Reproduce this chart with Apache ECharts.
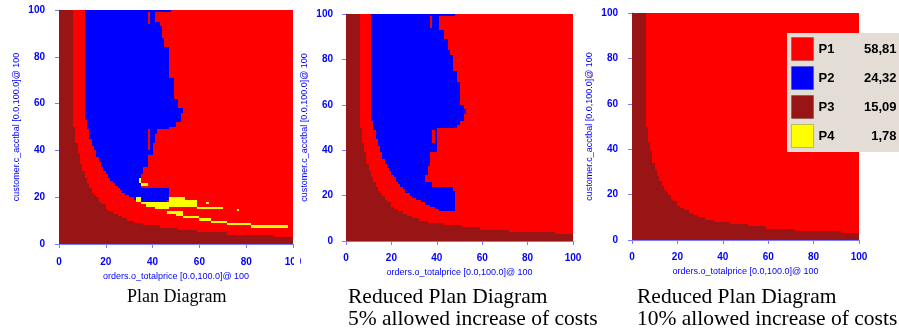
<!DOCTYPE html>
<html>
<head>
<meta charset="utf-8">
<script src="https://cdn.jsdelivr.net/npm/echarts@6/dist/echarts.min.js"></script>
<style>
  html, body { margin: 0; padding: 0; background: #fff; }
  #chart { width: 899px; height: 333px; }
</style>
</head>
<body>
<div id="chart"></div>
<script>
// plans, their colours and the share of each plan in the plan diagram
const plans = ['P1', 'P2', 'P3', 'P4'];
const planColors = ['#ff0000', '#0000ff', '#991414', '#ffff00'];
const planShares = ['58,81', '24,32', '15,09', '1,78'];

const axisTicks = [0, 20, 40, 60, 80, 100];
const xTitle = 'orders.o_totalprice [0.0,100.0]@ 100';
const yTitle = 'customer.c_acctbal [0.0,100.0]@ 100';
const captions = [
    'Plan Diagram',
    'Reduced Plan Diagram\n5% allowed increase of costs',
    'Reduced Plan Diagram\n10% allowed increase of costs'
];

// P3 reaches up to this y, per column x = 0..99 (same in all three diagrams)
const p3Top = [
    100, 100, 100, 100, 100, 100, 50, 43, 39, 34,
    31, 28, 26, 24, 22, 21, 20, 18, 17, 17,
    15, 14, 14, 13, 13, 12, 12, 11, 11, 10,
    10, 10, 9, 9, 9, 9, 8, 8, 8, 8,
    8, 8, 8, 7, 7, 7, 7, 7, 7, 7,
    7, 6, 6, 6, 6, 6, 6, 6, 6, 5,
    5, 5, 5, 5, 5, 5, 5, 5, 5, 5,
    5, 5, 4, 4, 4, 4, 4, 4, 4, 4,
    4, 4, 4, 4, 4, 4, 4, 4, 4, 4,
    4, 4, 3, 3, 3, 3, 3, 3, 3, 3
];

// P2 region, per row y = 0..99: from column left (incl.) to right (excl.)
const p2Left1 = [
    0, 0, 0, 0, 0, 0, 0, 0, 0, 0,
    0, 0, 0, 0, 0, 0, 0, 0, 34, 32,
    30, 28, 27, 26, 25, 24, 23, 22, 21, 21,
    20, 19, 19, 18, 18, 17, 17, 16, 16, 16,
    15, 15, 14, 14, 14, 13, 13, 13, 13, 12,
    12, 12, 12, 11, 11, 11, 11, 11, 11, 11,
    11, 11, 11, 11, 11, 11, 11, 11, 11, 11,
    11, 11, 11, 11, 11, 11, 11, 11, 11, 11,
    11, 11, 11, 11, 11, 11, 11, 11, 11, 11,
    11, 11, 11, 11, 11, 11, 11, 11, 11, 11
];
const p2Right1 = [
    0, 0, 0, 0, 0, 0, 0, 0, 0, 0,
    0, 0, 0, 0, 0, 0, 0, 0, 46, 47,
    47, 47, 47, 47, 35, 35, 35, 35, 35, 35,
    36, 36, 36, 38, 38, 38, 38, 38, 41, 41,
    41, 41, 41, 41, 41, 41, 41, 42, 42, 47,
    50, 50, 52, 52, 52, 52, 53, 53, 51, 51,
    51, 51, 49, 49, 49, 49, 49, 49, 49, 49,
    49, 47, 47, 47, 47, 47, 47, 47, 47, 47,
    47, 47, 47, 47, 45, 45, 45, 45, 44, 44,
    44, 44, 44, 43, 43, 41, 41, 41, 41, 48
];
const p2Left2 = [
    0, 0, 0, 0, 0, 0, 0, 0, 0, 0,
    0, 0, 0, 41, 39, 37, 35, 33, 31, 29,
    28, 26, 26, 25, 24, 23, 22, 22, 21, 20,
    20, 19, 18, 18, 17, 17, 16, 16, 16, 15,
    15, 15, 14, 14, 14, 13, 13, 13, 13, 12,
    12, 12, 12, 11, 11, 11, 11, 11, 11, 11,
    11, 11, 11, 11, 11, 11, 11, 11, 11, 11,
    11, 11, 11, 11, 11, 11, 11, 11, 11, 11,
    11, 11, 11, 11, 11, 11, 11, 11, 11, 11,
    11, 11, 11, 11, 11, 11, 11, 11, 11, 11
];
const p2Right2 = [
    0, 0, 0, 0, 0, 0, 0, 0, 0, 0,
    0, 0, 0, 48, 48, 48, 48, 48, 48, 48,
    48, 48, 47, 47, 38, 38, 35, 35, 35, 36,
    36, 36, 36, 37, 37, 37, 37, 37, 37, 40,
    40, 40, 40, 40, 40, 40, 40, 40, 40, 40,
    49, 50, 50, 52, 52, 52, 53, 53, 52, 52,
    50, 50, 50, 50, 50, 50, 50, 50, 50, 50,
    49, 49, 49, 49, 49, 47, 47, 47, 47, 47,
    47, 47, 46, 46, 45, 45, 45, 45, 45, 43,
    43, 43, 43, 41, 41, 41, 41, 41, 41, 48
];

// P1 slits inside the P2 region: [column, y from, y to]
const p1Slits1 = [[38, 94, 99], [38, 40, 49], [40, 37, 43]];
const p1Slits2 = [[37, 94, 99], [38, 43, 49]];

// P4 patches of the plan diagram: [x from, x to, y from, y to]
const p4Patches1 = [
    [33, 35, 18, 20], [35, 37, 17, 18], [37, 41, 16, 18], [41, 47, 15, 18],
    [47, 54, 16, 20], [54, 59, 16, 19], [59, 70, 15, 16],
    [63, 64, 17, 18], [76, 77, 14, 15], [34, 35, 26, 28], [35, 38, 25, 26],
    [46, 53, 13, 14], [53, 60, 11, 12], [50, 53, 12, 13], [60, 65, 10, 11],
    [65, 72, 9, 10], [72, 82, 8, 9], [82, 98, 7, 8]
];

function planGrid(left, right, slits, patches) {
    const g = [];
    for (let x = 0; x < 100; x++) {
        g.push([]);
        for (let y = 0; y < 100; y++) {
            let p = 0;
            if (y < p3Top[x]) p = 2;
            if (left && x >= left[y] && x < right[y]) p = 1;
            g[x].push(p);
        }
    }
    (slits || []).forEach(s => { for (let y = s[1]; y < s[2]; y++) g[s[0]][y] = 0; });
    (patches || []).forEach(r => {
        for (let x = r[0]; x < r[1]; x++) for (let y = r[2]; y < r[3]; y++) g[x][y] = 3;
    });
    return g;
}

// vertical runs of one plan: [x, y from, y to]
function runs(g, plan) {
    const out = [];
    for (let x = 0; x < 100; x++) {
        let start = -1;
        for (let y = 0; y <= 100; y++) {
            const on = y < 100 && g[x][y] === plan;
            if (on && start < 0) start = y;
            if (!on && start >= 0) { out.push([x, start, y]); start = -1; }
        }
    }
    return out;
}

const diagrams = [
    planGrid(p2Left1, p2Right1, p1Slits1, p4Patches1),
    planGrid(p2Left2, p2Right2, p1Slits2, null),
    planGrid(null, null, null, null)
];

const grids = [
    { left: 59, top: 10, width: 234, height: 234, off: [8, 8] },
    { left: 346, top: 14, width: 227, height: 227, off: [7, 7] },
    { left: 632, top: 13, width: 227, height: 227, off: [8, 7] }
];

const axisBlue = '#0000ff';
const lineBlue = '#7a7aff';

function renderCell(params, api) {
    const a = api.coord([api.value(0), api.value(2)]);
    const b = api.coord([api.value(0) + 1, api.value(1)]);
    const x = Math.round(a[0]), y = Math.round(a[1]);
    return {
        type: 'rect',
        shape: { x: x, y: y, width: Math.round(b[0]) - x, height: Math.round(b[1]) - y },
        style: { fill: api.visual('color') }
    };
}

const series = [];
diagrams.forEach((g, i) => {
    plans.forEach((name, k) => {
        series.push({
            type: 'custom',
            name: name,
            xAxisIndex: i,
            yAxisIndex: i,
            itemStyle: { color: planColors[k] },
            encode: { x: 0, y: [1, 2] },
            renderItem: renderCell,
            data: runs(g, k)
        });
    });
});

const chart = echarts.init(document.getElementById('chart'), null, { renderer: 'canvas' });

chart.setOption({
    animation: false,
    title: captions.map((t, i) => ({
        text: t,
        left: [127, 348, 637][i],
        top: i === 0 ? 286 : 286,
        padding: 0,
        textStyle: {
            fontFamily: 'Liberation Serif', fontSize: i === 0 ? 18 : 21.5,
            fontWeight: 'normal', color: '#000', lineHeight: 22
        }
    })),
    legend: {
        data: plans,
        orient: 'vertical',
        left: 787,
        top: 33,
        icon: 'rect',
        itemWidth: 22,
        itemHeight: 23,
        itemGap: 5,
        itemTextGap: 6,
        padding: [4, 12, 4, 4],
        backgroundColor: '#e3ddd5',
        selectedMode: false,
        itemStyle: { borderColor: 'rgba(0,0,0,0.2)', borderWidth: 1 },
        formatter: name => '{n|' + name + '}{v|' + planShares[plans.indexOf(name)] + '}',
        textStyle: {
            rich: {
                n: { width: 40, fontFamily: 'Arial', fontWeight: 'bold', fontSize: 13, color: '#000' },
                v: { width: 38, align: 'right', fontFamily: 'Arial', fontWeight: 'bold', fontSize: 13, color: '#000' }
            }
        }
    },
    grid: grids.map(g => ({ left: g.left, top: g.top, width: g.width, height: g.height })),
    xAxis: grids.map((g, i) => ({
        type: 'value',
        gridIndex: i,
        min: axisTicks[0],
        max: axisTicks[axisTicks.length - 1],
        interval: axisTicks[1] - axisTicks[0],
        offset: g.off[1],
        name: xTitle,
        nameLocation: 'middle',
        nameGap: 17,
        nameTextStyle: { color: axisBlue, fontFamily: 'Arial', fontSize: 9 },
        axisLine: { show: true, lineStyle: { color: lineBlue } },
        axisTick: { show: true, length: 4, lineStyle: { color: lineBlue } },
        axisLabel: { color: axisBlue, fontFamily: 'Arial', fontWeight: 'bold', fontSize: 10, margin: 5 },
        splitLine: { show: false }
    })),
    yAxis: grids.map((g, i) => ({
        type: 'value',
        gridIndex: i,
        min: axisTicks[0],
        max: axisTicks[axisTicks.length - 1],
        interval: axisTicks[1] - axisTicks[0],
        offset: g.off[0],
        name: yTitle,
        nameLocation: 'middle',
        nameGap: 30,
        nameTextStyle: { color: axisBlue, fontFamily: 'Arial', fontSize: 9 },
        axisLine: { show: true, lineStyle: { color: lineBlue } },
        axisTick: { show: true, length: 4, lineStyle: { color: lineBlue } },
        axisLabel: { color: axisBlue, fontFamily: 'Arial', fontWeight: 'bold', fontSize: 10, margin: 6 },
        splitLine: { show: false }
    })),
    // the first diagram is cut off just right of its last tick label
    graphic: [{ type: 'rect', left: 294, top: 254, shape: { width: 6, height: 18 }, style: { fill: '#fff' }, z: 100 }],
    series: series
});

window.addEventListener('resize', () => {
    chart.resize();
});
</script>
</body>
</html>
